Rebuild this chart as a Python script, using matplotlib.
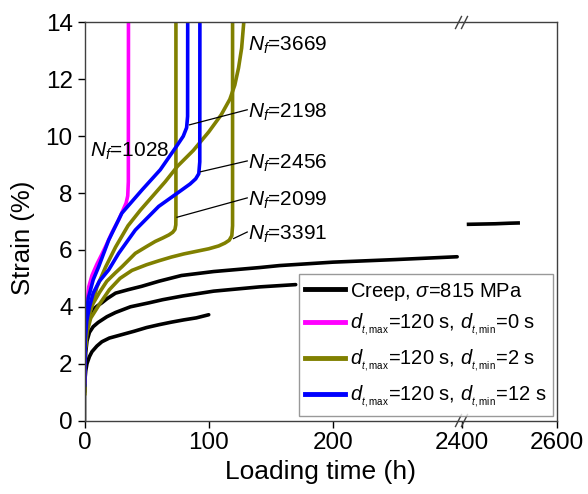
import matplotlib
matplotlib.use("Agg")
import matplotlib.pyplot as plt

plt.rcParams["font.family"] = ["Liberation Sans", "DejaVu Sans"]
plt.rcParams["mathtext.fontset"] = "custom"
plt.rcParams["mathtext.rm"] = "Liberation Sans"
plt.rcParams["mathtext.it"] = "Liberation Sans:italic"
plt.rcParams["mathtext.bf"] = "Liberation Sans:bold"

# creep curves (sigma = 815 MPa)
creep_a_t = [0, 0, 0.5, 1, 2, 4, 6, 10, 14, 20, 30, 40, 50, 60, 70, 80, 90, 100]
creep_a_s = [0, 1.0, 1.5, 1.75, 2.0, 2.25, 2.42, 2.62, 2.77, 2.9, 3.02, 3.14, 3.27, 3.37, 3.46, 3.54, 3.61, 3.72]

creep_b_t = [0, 0.5, 1, 2, 4, 7, 11, 18, 25, 37, 52, 63, 79, 104, 141, 170]
creep_b_s = [1.0, 2.0, 2.4, 2.8, 3.1, 3.3, 3.45, 3.65, 3.8, 4.0, 4.14, 4.25, 4.38, 4.55, 4.7, 4.78]

creep_c_t = [0, 0.5, 1, 2, 4, 7, 10, 14, 18, 25, 35, 46, 60, 78, 104, 141, 157, 200, 250, 300]
creep_c_s = [1.0, 2.4, 2.9, 3.3, 3.65, 3.9, 4.02, 4.14, 4.28, 4.48, 4.6, 4.72, 4.9, 5.1, 5.24, 5.38, 5.45, 5.57, 5.66, 5.76]
creep_c_long_t = [2410, 2440, 2470, 2500, 2522]
creep_c_long_s = [6.9, 6.91, 6.92, 6.94, 6.95]

# cyclic, d_t,min = 0 s
mag_t = [0, 0.5, 1.5, 3.4, 6, 10, 14, 17, 22, 27.5, 31, 33.5, 34.8, 35.3, 35.4]
mag_s = [1.3, 3.0, 3.9, 4.7, 5.1, 5.5, 5.85, 6.12, 6.6, 7.06, 7.4, 7.65, 7.9, 8.4, 14.5]

# cyclic, d_t,min = 2 s
olA_t = [0, 0.5, 2, 4, 7, 12, 18, 25, 30.2, 40.9, 50, 57, 63, 68, 71, 72.8, 73.5, 73.6, 73.6]
olA_s = [0.9, 2.5, 3.3, 3.8, 4.12, 4.5, 4.9, 5.2, 5.41, 5.88, 6.12, 6.3, 6.42, 6.53, 6.62, 6.72, 6.88, 7.2, 14.5]
olB_t = [0, 0.5, 2, 5, 12.5, 20, 28.6, 38.2, 50, 60, 70, 80, 90, 100, 108, 113, 116.5, 118.6, 119.2, 119.2]
olB_s = [0.9, 2.4, 3.1, 3.6, 4.12, 4.6, 5.0, 5.28, 5.48, 5.62, 5.75, 5.86, 5.95, 6.04, 6.14, 6.24, 6.34, 6.5, 6.85, 14.5]
olC_t = [0, 0.5, 2, 4.4, 10, 17, 25, 35, 45, 55, 65, 75, 87.6, 100, 110, 117, 121, 124, 126.5, 128.2, 129]
olC_s = [0.9, 2.5, 3.3, 3.8, 4.7, 5.4, 6.1, 6.85, 7.4, 7.9, 8.4, 8.95, 9.5, 10.15, 10.75, 11.3, 11.8, 12.4, 13.1, 14.0, 14.5]

# cyclic, d_t,min = 12 s
blA_t = [0, 0.5, 1.5, 3, 7, 11.4, 19.5, 30, 46.3, 61, 74, 79.5, 82.2, 83, 83.1]
blA_s = [1.2, 3.0, 3.7, 4.3, 4.95, 5.41, 6.35, 7.29, 8.11, 8.82, 9.64, 10.0, 10.3, 10.7, 14.5]
blB_t = [0, 0.5, 1.8, 4, 7, 12, 19.5, 27.5, 40.9, 59.7, 78, 85, 89.5, 92, 92.8, 92.9]
blB_s = [1.2, 2.8, 3.5, 4.0, 4.48, 4.9, 5.3, 5.88, 6.7, 7.53, 8.1, 8.32, 8.5, 8.68, 9.1, 14.5]

# N_f annotations: text position and leader start (t, strain)
nf_labels = ["3669", "2198", "2456", "2099", "3391"]
nf_text_t = [131.5, 131.5, 131.5, 131.5, 131.5]
nf_text_s = [13.2, 10.85, 9.05, 7.75, 6.55]
nf_line_t = [None, 84.5, 93.5, 74.5, 120.0]
nf_line_s = [None, 10.4, 8.75, 7.15, 6.4]

left_xticks = [0, 100, 200]
right_xticks = [2400, 2600]
yticks = [0, 2, 4, 6, 8, 10, 12, 14]

fig = plt.figure(figsize=(5.88, 4.94), dpi=100)
ax1 = fig.add_axes([84.5 / 588, 1 - 420.5 / 494, (462 - 84.5) / 588, 398 / 494])
ax2 = fig.add_axes([462 / 588, 1 - 420.5 / 494, 95 / 588, 398 / 494])

lw = 2.6
olive = "#808000"
style = dict(lw=lw, solid_joinstyle="round", solid_capstyle="round")
ax1.plot(creep_a_t, creep_a_s, color="black", **style)
ax1.plot(creep_b_t, creep_b_s, color="black", **style)
ax1.plot(creep_c_t, creep_c_s, color="black", **style)
ax2.plot(creep_c_long_t, creep_c_long_s, color="black", lw=lw, solid_capstyle="butt")
ax1.plot(olA_t, olA_s, color=olive, **style)
ax1.plot(olB_t, olB_s, color=olive, **style)
ax1.plot(olC_t, olC_s, color=olive, **style)
ax1.plot(mag_t, mag_s, color="#ff00ff", **style)
ax1.plot(blA_t, blA_s, color="#0000ff", **style)
ax1.plot(blB_t, blB_s, color="#0000ff", **style)

ax1.text(4.5, 9.45, "$N_f$=1028", fontsize=15, va="center", ha="left")
for lab, tx, sy, lx, ly in zip(nf_labels, nf_text_t, nf_text_s, nf_line_t, nf_line_s):
    ax1.text(tx, sy, "$N_f$=" + lab, fontsize=15, va="center", ha="left")
    if lx is not None:
        ax1.plot([lx, tx - 0.5], [ly, sy + 0.08], color="black", lw=0.9)

ax1.set_xlim(0, 303.9)
ax2.set_xlim(2400, 2600)
for ax in (ax1, ax2):
    ax.set_ylim(0, 14)
    ax.tick_params(direction="out", length=5, width=1, labelsize=17.5, colors="black")
    for sp in ax.spines.values():
        sp.set_color("#404040")
        sp.set_linewidth(1.0)
ax1.spines["right"].set_visible(False)
ax2.spines["left"].set_visible(False)
ax2.tick_params(axis="y", left=False, labelleft=False)
ax1.set_xticks(left_xticks)
ax1.set_yticks(yticks)
ax2.set_xticks(right_xticks)

ax1.set_ylabel("Strain (%)", fontsize=18.5)
ax1.yaxis.set_label_coords(-0.13, 0.46)
fig.text((84.5 + 557) / 2 / 588, 0.02, "Loading time (h)", fontsize=19, ha="center", va="bottom")

# break marks
for yb in (0, 1):
    for off in (-3.5, 2.5):
        x0 = off / 95
        ax2.plot([x0 - 3 / 95, x0 + 3 / 95], [yb - 6 / 398, yb + 6 / 398],
                 transform=ax2.transAxes, color="#404040", lw=1, clip_on=False)

handles = [
    plt.Line2D([], [], color="black", lw=3.5),
    plt.Line2D([], [], color="#ff00ff", lw=3.5),
    plt.Line2D([], [], color=olive, lw=3.5),
    plt.Line2D([], [], color="#0000ff", lw=3.5),
]
labels = [
    r"Creep, $\sigma$=815 MPa",
    r"$d_{{}_{t,\mathrm{max}}}$=120 s, $d_{{}_{t,\mathrm{min}}}$=0 s",
    r"$d_{{}_{t,\mathrm{max}}}$=120 s, $d_{{}_{t,\mathrm{min}}}$=2 s",
    r"$d_{{}_{t,\mathrm{max}}}$=120 s, $d_{{}_{t,\mathrm{min}}}$=12 s",
]
leg = fig.legend(handles, labels, loc="lower right", bbox_to_anchor=(553 / 588, 1 - 416 / 494),
                 fontsize=14.5, frameon=True, fancybox=False, handlelength=2.0,
                 handletextpad=0.25, labelspacing=0.48, borderpad=0.3, borderaxespad=0)
leg.get_frame().set_edgecolor("#808080")
leg.get_frame().set_linewidth(1.0)

fig.savefig("out.png", dpi=100)
